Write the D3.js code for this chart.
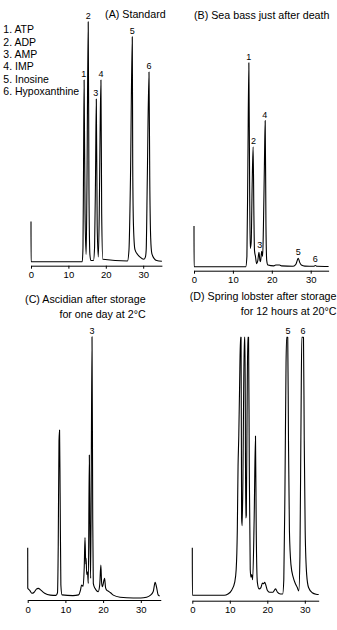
<!DOCTYPE html>
<html><head><meta charset="utf-8">
<script src="https://cdn.jsdelivr.net/npm/d3@7/dist/d3.min.js"></script>
<style>
html,body{margin:0;padding:0;background:#fff;}
svg{display:block;font-family:"Liberation Sans",Arial,Helvetica,sans-serif;}
</style></head>
<body><svg id="c" width="337" height="630"></svg>
<script>
// ---------- DATA (time in min, relative detector signal) ----------
const ticks = [0, 10, 20, 30];
const legend = ["1. ATP", "2. ADP", "3. AMP", "4. IMP", "5. Inosine", "6. Hypoxanthine"];

const titleA = ["(A) Standard"];
const titleB = ["(B) Sea bass just after death"];
const titleC = ["(C) Ascidian after storage", "for one day at 2\u00B0C"];
const titleD = ["(D) Spring lobster after storage", "for 12 hours at 20\u00B0C"];

const traceA = [[0,0.167],[0.02,0],[13.7,0],[13.9,0.06],[14.05,0.4],[14.2,0.757],[14.45,0.2],[14.75,0.03],
 [14.95,0.3],[15.3,1.0],[15.5,0.3],[15.75,0.03],[16.0,0.005],[16.7,0.005],[17.0,0.06],[17.25,0.35],
 [17.46,0.678],[17.7,0.15],[18.0,0.02],[18.25,0.2],[18.45,0.5],[18.7,0.757],[18.9,0.2],[19.2,0.01],
 [25.8,0.003],[26.2,0.05],[26.6,0.35],[27.08,0.9375],[27.2,0.4],[27.4,0.15],[27.8,0.05],[28.5,0.03],
 [29.1,0.02],[30.2,0.01],[30.6,0.02],[30.8,0.05],[31.1,0.35],[31.55,0.79],[31.75,0.35],[32.0,0.1],
 [32.3,0.035],[33.0,0.012],[33.6,0.005],[35.0,0.002]];
const peaksA = [[14.1,0.757,"1"],[15.3,1.0,"2"],[17.3,0.678,"3"],[18.7,0.757,"4"],[27.08,0.9375,"5"],[31.55,0.79,"6"]];

const traceB = [[0,0.2],[0.02,0],[13.3,0],[13.6,0.05],[13.85,0.5],[14.1,1.0],[14.3,0.4],[14.45,0.09],
 [14.7,0.12],[14.95,0.4],[15.2,0.588],[15.4,0.25],[15.55,0.08],[15.8,0.05],[16.1,0.015],[16.4,0.03],
 [16.7,0.07],[16.95,0.03],[17.1,0.025],[17.4,0.075],[17.65,0.05],[17.85,0.2],[18.1,0.5],[18.3,0.716],
 [18.5,0.2],[18.7,0.03],[19.0,0.008],[20.5,0.004],[21.0,0.008],[22.0,0.008],[22.5,0.004],[25.5,0.002],
 [26.2,0.012],[26.8,0.041],[27.2,0.02],[27.6,0.008],[28.5,0.003],[30.8,0.002],[31.2,0.006],[31.6,0.002],[34.6,0.001]];
const peaksB = [[14.1,1.0,"1"],[15.3,0.588,"2"],[16.9,0.075,"3"],[18.2,0.716,"4"],[26.8,0.041,"5"],[31.2,0.01,"6"]];

const traceC = [[0,0.1925],[0.02,0.037],[0.5,0.03],[1.1,0.018],[1.7,0.022],[2.3,0.034],[2.8,0.037],[3.5,0.03],
 [4.5,0.018],[6.0,0.011],[7.5,0.01],[7.9,0.02],[8.1,0.2],[8.3,0.6],[8.45,0.643],[8.6,0.4],[8.8,0.05],
 [9.1,0.012],[12.0,0.009],[13.5,0.012],[14.0,0.03],[14.3,0.05],[14.7,0.045],[15.0,0.12],[15.2,0.231],
 [15.4,0.13],[15.5,0.152],[15.65,0.09],[15.85,0.1],[16.08,0.056],[16.35,0.547],[16.55,0.2],[16.7,0.075],
 [17.06,1.0],[17.25,0.3],[17.4,0.056],[17.85,0.037],[18.7,0.024],[19.1,0.05],[19.4,0.126],[19.6,0.06],
 [19.8,0.043],[20.4,0.075],[20.65,0.04],[20.95,0.03],[21.5,0.025],[22.0,0.02],[22.7,0.011],[24.5,0.003],
 [28.0,0.0],[30.0,0.0],[31.5,0.003],[32.5,0.01],[33.3,0.025],[33.8,0.06],[34.2,0.04],[34.6,0.012],[35.0,0.008]];
const peaksC = [[17.06,1.0,"3"]];

const traceD = [[0,0.184],[0.02,0],[8.5,0],[9.5,0.005],[10.5,0.02],[11.3,0.05],[11.7,0.1],[12.0,0.25],
 [12.2,0.5],[12.4,0.62],[12.6,0.8],[12.85,1.0],[13.0,1.0],[13.15,0.3],[13.3,0.27],[13.5,0.45],[13.7,0.8],
 [13.9,1.0],[14.05,1.0],[14.25,0.3],[14.4,0.31],[14.6,0.7],[14.8,1.0],[15.0,1.0],[15.2,0.5],[15.45,0.1],
 [15.65,0.07],[15.85,0.08],[16.1,0.06],[16.5,0.3],[16.85,0.617],[17.05,0.25],[17.35,0.05],[17.8,0.025],
 [18.3,0.03],[18.7,0.047],[19.0,0.045],[19.3,0.05],[19.6,0.04],[20.0,0.02],[20.6,0.012],[21.5,0.012],
 [22.2,0.025],[22.7,0.012],[23.5,0.005],[24.1,0.005],[24.4,0.06],[24.7,0.4],[25.0,0.9],[25.15,1.0],
 [25.45,1.0],[25.65,0.6],[25.9,0.25],[26.3,0.12],[26.9,0.07],[27.5,0.045],[28.0,0.03],[28.4,0.017],
 [28.7,0.15],[29.0,0.7],[29.2,1.0],[29.65,1.0],[29.85,0.6],[30.1,0.25],[30.5,0.08],[31.0,0.03],
 [32.0,0.01],[33.0,0.004],[33.7,0.003]];
const peaksD = [[25.5,1.0,"5"],[29.5,1.0,"6"]];

// ---------- LAYOUT ----------
const panels = [
 {trace:traceA, peaks:peaksA, title:titleA, xEnd:35,   x0:31,    k:3.74, yBase:261.7, yTop:21.7,  axisY:265.7, titleX:165.7, titleY:[14], anchor:"end"},
 {trace:traceB, peaks:peaksB, title:titleB, xEnd:34.6, x0:194,   k:3.89, yBase:266.7, yTop:62.7,  axisY:270.7, titleX:194,   titleY:[15], anchor:"start"},
 {trace:traceC, peaks:peaksC, title:titleC, xEnd:35.3, x0:27.7,  k:3.77, yBase:598,   yTop:336.7, axisY:600,   titleX:145.7, titleY:[299,314], anchor:"end"},
 {trace:traceD, peaks:peaksD, title:titleD, xEnd:33.7, x0:192.3, k:3.75, yBase:595.3, yTop:337.3, axisY:600.7, titleX:336.5, titleY:[296,310.7], anchor:"end"}
];

const svg = d3.select("#c");

panels.forEach(p => {
  const x = d3.scaleLinear().domain([0, p.xEnd]).range([p.x0, p.x0 + p.xEnd * p.k]);
  const y = d3.scaleLinear().domain([0, 1]).range([p.yBase, p.yTop]);
  const g = svg.append("g");

  // axis
  const ax = g.append("g").attr("transform", `translate(0,${p.axisY})`)
    .call(d3.axisBottom(x).tickValues(ticks).tickSize(3).tickSizeOuter(0).tickPadding(3).tickFormat(d3.format("d")));
  ax.select(".domain").attr("stroke", "#000").attr("stroke-width", 1);
  ax.selectAll(".tick line").attr("stroke", "#000");
  ax.selectAll(".tick text").attr("font-size", 9.5).attr("fill", "#000")
    .attr("font-family", "'Liberation Sans',Arial,sans-serif");

  // trace
  const line = d3.line().x(d => x(d[0])).y(d => y(d[1])).curve(d3.curveMonotoneX);
  g.append("path").datum(p.trace).attr("d", line)
    .attr("fill", "none").attr("stroke", "#000").attr("stroke-width", 1.1).attr("stroke-linejoin", "round");

  // peak numbers
  g.selectAll("text.pk").data(p.peaks).join("text").attr("class", "pk")
    .attr("x", d => x(d[0])).attr("y", d => y(d[1]) - 6)
    .attr("text-anchor", "middle").attr("dominant-baseline", "central")
    .attr("font-size", 9).attr("fill", "#000").text(d => d[2]);

  // title
  g.selectAll("text.tt").data(p.title).join("text").attr("class", "tt")
    .attr("x", p.titleX).attr("y", (d, i) => p.titleY[i])
    .attr("text-anchor", p.anchor).attr("dominant-baseline", "central")
    .attr("font-size", 10.7).attr("fill", "#000").text(d => d);
});

// legend of panel A
svg.append("g").selectAll("text").data(legend).join("text")
  .attr("x", 3.3).attr("y", (d, i) => 29.3 + i * 12.35)
  .attr("dominant-baseline", "central").attr("font-size", 10.5).attr("fill", "#000").text(d => d);
</script></body></html>
